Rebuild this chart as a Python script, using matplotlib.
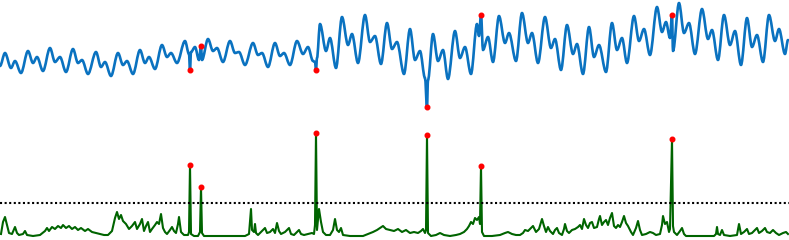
import matplotlib
matplotlib.use('Agg')

import matplotlib.pyplot as plt
from matplotlib.path import Path
from matplotlib.patches import PathPatch

# sinal (pontos de pico/vale)
sig_t = [0, 5, 11, 15, 21, 28, 33, 37, 43, 50, 55, 60, 66, 73, 78, 82, 88, 96,
         101, 105, 111, 118, 123, 127, 133, 140, 145, 149, 155, 162, 167, 171, 177,
         185, 189, 190, 191, 195, 199, 201, 202, 208, 213, 217, 223, 230, 235, 239,
         245, 253, 258, 262, 268, 275, 280, 284, 290, 297, 303, 308, 313, 315, 316,
         317, 320, 326, 330, 336, 342, 348, 352, 358, 365, 370, 375, 381, 387, 392,
         397, 404, 410, 415, 420, 425, 427, 428, 433, 438, 443, 448, 455, 460, 465,
         471, 477, 479, 481, 483, 488, 493, 499, 505, 509, 516, 522, 528, 532, 538,
         545, 551, 555, 561, 567, 573, 577, 583, 589, 594, 599, 606, 612, 617, 622,
         627, 634, 639, 644, 650, 657, 662, 666, 670, 672, 673, 679, 684, 689, 695,
         702, 708, 712, 718, 724, 730, 735, 741, 747, 752, 757, 763, 769, 775, 779,
         785, 788]
sig_v = [44, 57, 42, 49, 37, 59, 47, 53, 39, 62, 48, 53, 38, 61, 47, 50, 36, 58,
         43, 48, 34, 57, 45, 49, 36, 60, 47, 53, 41, 65, 53, 57, 47,
         69, 56, 40, 58, 63, 50, 64, 50, 71, 59, 62, 48, 69, 57, 58,
         45, 67, 55, 57, 43, 67, 54, 57, 45, 69, 56, 63, 49, 48, 40,
         52, 86, 59, 72, 42, 93, 65, 76, 47, 95, 68, 74, 46, 87, 61,
         68, 36, 81, 50, 59, 32, 3, 30, 76, 49, 60, 31, 79, 52, 63,
         36, 86, 74, 95, 60, 73, 48, 94, 67, 77, 49, 97, 67, 77, 47,
         93, 62, 71, 40, 85, 56, 66, 36, 83, 53, 65, 38, 87, 60, 72,
         47, 94, 69, 81, 55, 103, 78, 88, 72, 95, 59, 107, 77, 87, 56,
         101, 71, 80, 50, 95, 65, 79, 45, 92, 63, 75, 48, 95, 69, 81,
         56, 70]

# score de anomalia
score_t = [1, 3, 5, 7, 9, 12, 15, 17, 19, 23, 25, 27, 33, 40, 45, 47, 49, 52, 55,
           58, 61, 63, 66, 69, 72, 75, 78, 81, 85, 88, 92, 96, 100, 104, 108, 112,
           115, 117, 119, 121, 123, 126, 129, 132, 135, 137, 140, 142, 144, 146, 148,
           150, 152, 155, 157, 159, 161, 163, 165, 167, 170, 172, 174, 176, 178, 179,
           181, 184, 188, 189, 190, 191, 194, 198, 200, 201, 202, 204, 215, 230, 245,
           249, 251, 252, 254, 255, 256, 258, 262, 265, 267, 270, 273, 275, 277, 279,
           281, 285, 289, 291, 294, 297, 299, 301, 304, 308, 312, 314, 315, 316, 317,
           318, 319, 321, 323, 326, 330, 333, 335, 337, 339, 341, 343, 350, 363, 368,
           373, 377, 380, 383, 386, 390, 394, 398, 402, 406, 410, 414, 418, 421, 423,
           425, 426, 427, 428, 431, 436, 440, 444, 450, 456, 460, 464, 467, 469, 471,
           473, 475, 477, 479, 480, 481, 482, 484, 492, 500, 505, 508, 512, 516, 520,
           523, 525, 528, 531, 533, 536, 539, 542, 544, 546, 548, 550, 553, 555, 557,
           559, 562, 564, 565, 567, 569, 572, 575, 578, 580, 582, 584, 586, 588, 590,
           592, 594, 597, 599, 600, 602, 604, 606, 608, 610, 612, 614, 616, 618, 620,
           622, 624, 626, 628, 631, 633, 636, 638, 640, 642, 646, 650, 653, 656, 660,
           662, 663, 665, 667, 669, 670, 672, 673, 674, 677, 680, 682, 684, 686, 700,
           714, 716, 717, 718, 720, 722, 724, 730, 737, 739, 741, 744, 747, 749, 752,
           755, 757, 759, 762, 765, 767, 770, 773, 776, 779, 783, 786, 788]
score_v = [2, 14, 19, 11, 3, 2, 9, 3, 1, 2, 5, 1, 0, 1, 5, 8, 5, 9, 7,
           10, 8, 11, 8, 10, 7, 9, 6, 8, 5, 7, 4, 3, 2, 1, 1, 5,
           18, 24, 17, 21, 15, 12, 7, 10, 14, 7, 12, 17, 5, 10, 14,
           4, 7, 11, 14, 12, 22, 8, 4, 2, 6, 9, 5, 3, 12, 19,
           4, 1, 1, 4, 71, 2, 0, 0, 4, 49, 3, 0, 0, 0, 0,
           2, 27, 6, 4, 12, 3, 1, 5, 8, 3, 4, 7, 3, 13, 5,
           2, 4, 8, 2, 1, 4, 6, 2, 1, 2, 3, 2, 11, 103, 6,
           16, 27, 14, 4, 1, 1, 6, 17, 6, 4, 8, 1, 0, 0, 2,
           4, 6, 8, 10, 7, 6, 5, 7, 4, 6, 3, 4, 3, 5, 7,
           3, 6, 101, 3, 0, 1, 3, 1, 0, 1, 2, 4, 7, 10, 14,
           12, 18, 16, 19, 12, 70, 4, 0, 0, 1, 3, 4, 2, 1, 1,
           3, 6, 5, 8, 10, 4, 7, 17, 10, 4, 9, 5, 2, 6, 8,
           3, 1, 7, 12, 5, 3, 6, 7, 9, 11, 7, 17, 11, 8, 13,
           14, 8, 9, 17, 20, 11, 14, 16, 11, 18, 23, 10, 8, 11, 9,
           14, 20, 13, 10, 4, 1, 8, 15, 6, 1, 2, 4, 3, 1, 2,
           11, 20, 12, 14, 4, 7, 97, 10, 4, 1, 5, 8, 2, 0, 0,
           0, 2, 9, 2, 1, 6, 1, 0, 1, 12, 2, 4, 7, 2, 3,
           6, 8, 3, 5, 8, 4, 3, 6, 3, 1, 3, 4, 2]

threshold = 33
anomalias = [190, 201, 316, 427, 481, 672]

AZUL = '#0a72c0'
VERDE = '#006400'


def curva_suave(xs, ys):
    # bezier com tangente horizontal em cada ponto (picos/vales)
    verts = [(xs[0], ys[0])]
    codes = [Path.MOVETO]
    for i in range(1, len(xs)):
        dx = (xs[i] - xs[i - 1]) / 3.0
        verts += [(xs[i - 1] + dx, ys[i - 1]), (xs[i] - dx, ys[i]), (xs[i], ys[i])]
        codes += [Path.CURVE4] * 3
    return Path(verts, codes)


fig = plt.figure(figsize=(7.89, 2.40), dpi=100)

ax1 = fig.add_axes([0, 130 / 240, 1, 110 / 240])
ax1.add_patch(PathPatch(curva_suave(sig_t, sig_v), facecolor='none', edgecolor=AZUL,
                        lw=1.9, capstyle='round', joinstyle='round'))
sig = dict(zip(sig_t, sig_v))
ax1.plot(anomalias, [sig[t] for t in anomalias], 'o', color='red', ms=3.3,
         clip_on=False, zorder=5)
ax1.set_xlim(0, 789)
ax1.set_ylim(0, 110)
ax1.axis('off')

ax2 = fig.add_axes([0, 0, 1, 0.5])
ax2.plot(score_t, score_v, color=VERDE, lw=1.5)
ax2.axhline(threshold, color='black', ls=(0, (1, 1.2)), lw=1.5)
sc = dict(zip(score_t, score_v))
ax2.plot(anomalias, [sc[t] for t in anomalias], 'o', color='red', ms=3.3,
         clip_on=False, zorder=5)
ax2.set_xlim(0, 789)
ax2.set_ylim(-4, 116)
ax2.axis('off')

plt.savefig('out.png', dpi=100)
